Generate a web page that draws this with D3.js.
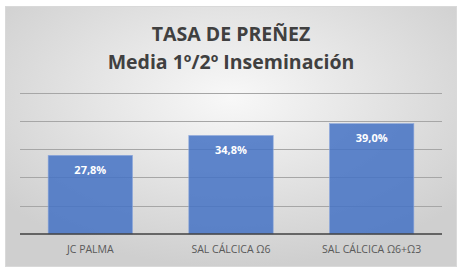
<!DOCTYPE html>
<html>
<head>
<meta charset="utf-8">
<script src="https://cdn.jsdelivr.net/npm/d3@7"></script>
<style>
  body { margin: 0; background: #fff; }
  svg { display: block; }
</style>
</head>
<body>
<div id="chart"></div>
<script>
// values
var categories = ["JC PALMA", "SAL CÁLCICA Ω6", "SAL CÁLCICA Ω6+Ω3"];
var values = [27.8, 34.8, 39.0];
var valueLabels = ["27,8%", "34,8%", "39,0%"];
var yTicks = [0, 10, 20, 30, 40, 50];
var titleLines = ["TASA DE PREÑEZ", "Media 1º/2º Inseminación"];

var width = 463, height = 274;

var svg = d3.select("#chart").append("svg")
    .attr("width", width)
    .attr("height", height);

var defs = svg.append("defs");
var grad = defs.append("radialGradient")
    .attr("id", "bg")
    .attr("cx", "50%").attr("cy", "35%")
    .attr("r", "65%");
grad.append("stop").attr("offset", "0%").attr("stop-color", "#f8f8f8");
grad.append("stop").attr("offset", "100%").attr("stop-color", "#cfcfcf");

// chart area
svg.append("rect")
    .attr("x", 5.5).attr("y", 6.5)
    .attr("width", 451).attr("height", 260)
    .attr("fill", "url(#bg)")
    .attr("stroke", "#d9d9d9")
    .attr("stroke-width", 1);

var x = d3.scaleBand()
    .domain(categories)
    .range([20, 442])
    .paddingInner(0.4)
    .paddingOuter(0.2);

var y = d3.scaleLinear()
    .domain([0, 50])
    .range([234, 92.5]);

// gridlines
svg.append("g").selectAll("line")
    .data(yTicks.filter(function(d) { return d > 0; }))
  .enter().append("line")
    .attr("x1", 20).attr("x2", 442)
    .attr("y1", function(d) { return Math.round(y(d)) + 0.5; })
    .attr("y2", function(d) { return Math.round(y(d)) + 0.5; })
    .attr("stroke", "#a6a6a6")
    .attr("stroke-width", 1);

// bars
svg.append("g").selectAll("rect")
    .data(values)
  .enter().append("rect")
    .attr("x", function(d, i) { return x(categories[i]); })
    .attr("y", function(d) { return y(d); })
    .attr("width", x.bandwidth())
    .attr("height", function(d) { return y(0) - y(d); })
    .attr("fill", "#4472c4")
    .attr("fill-opacity", 0.85)
    .attr("stroke", "#8fa9dc")
    .attr("stroke-width", 0.6);

// value labels
svg.append("g").selectAll("text")
    .data(values)
  .enter().append("text")
    .attr("x", function(d, i) { return x(categories[i]) + x.bandwidth() / 2; })
    .attr("y", function(d) { return y(d) + 18.5; })
    .attr("text-anchor", "middle")
    .attr("font-family", "'Open Sans', sans-serif")
    .attr("font-weight", "bold")
    .attr("font-size", "11px")
    .attr("fill", "#ffffff")
    .text(function(d, i) { return valueLabels[i]; });

// baseline
svg.append("line")
    .attr("x1", 20).attr("x2", 442)
    .attr("y1", y(0)).attr("y2", y(0))
    .attr("stroke", "#404040")
    .attr("stroke-width", 1.6);

// category axis
var xAxis = svg.append("g")
    .attr("transform", "translate(0," + y(0) + ")")
    .call(d3.axisBottom(x).tickSize(0).tickPadding(12));
xAxis.select(".domain").remove();
xAxis.selectAll("text")
    .attr("font-family", "'Open Sans', sans-serif")
    .attr("font-size", "10.5px")
    .attr("fill", "#595959");

// title
svg.append("g").selectAll("text")
    .data(titleLines)
  .enter().append("text")
    .attr("x", 231)
    .attr("y", function(d, i) { return 40.5 + i * 28.5; })
    .attr("text-anchor", "middle")
    .attr("font-family", "'Open Sans', sans-serif")
    .attr("font-weight", "bold")
    .attr("font-size", "19.5px")
    .attr("fill", "#404040")
    .text(function(d) { return d; });
</script>
</body>
</html>
